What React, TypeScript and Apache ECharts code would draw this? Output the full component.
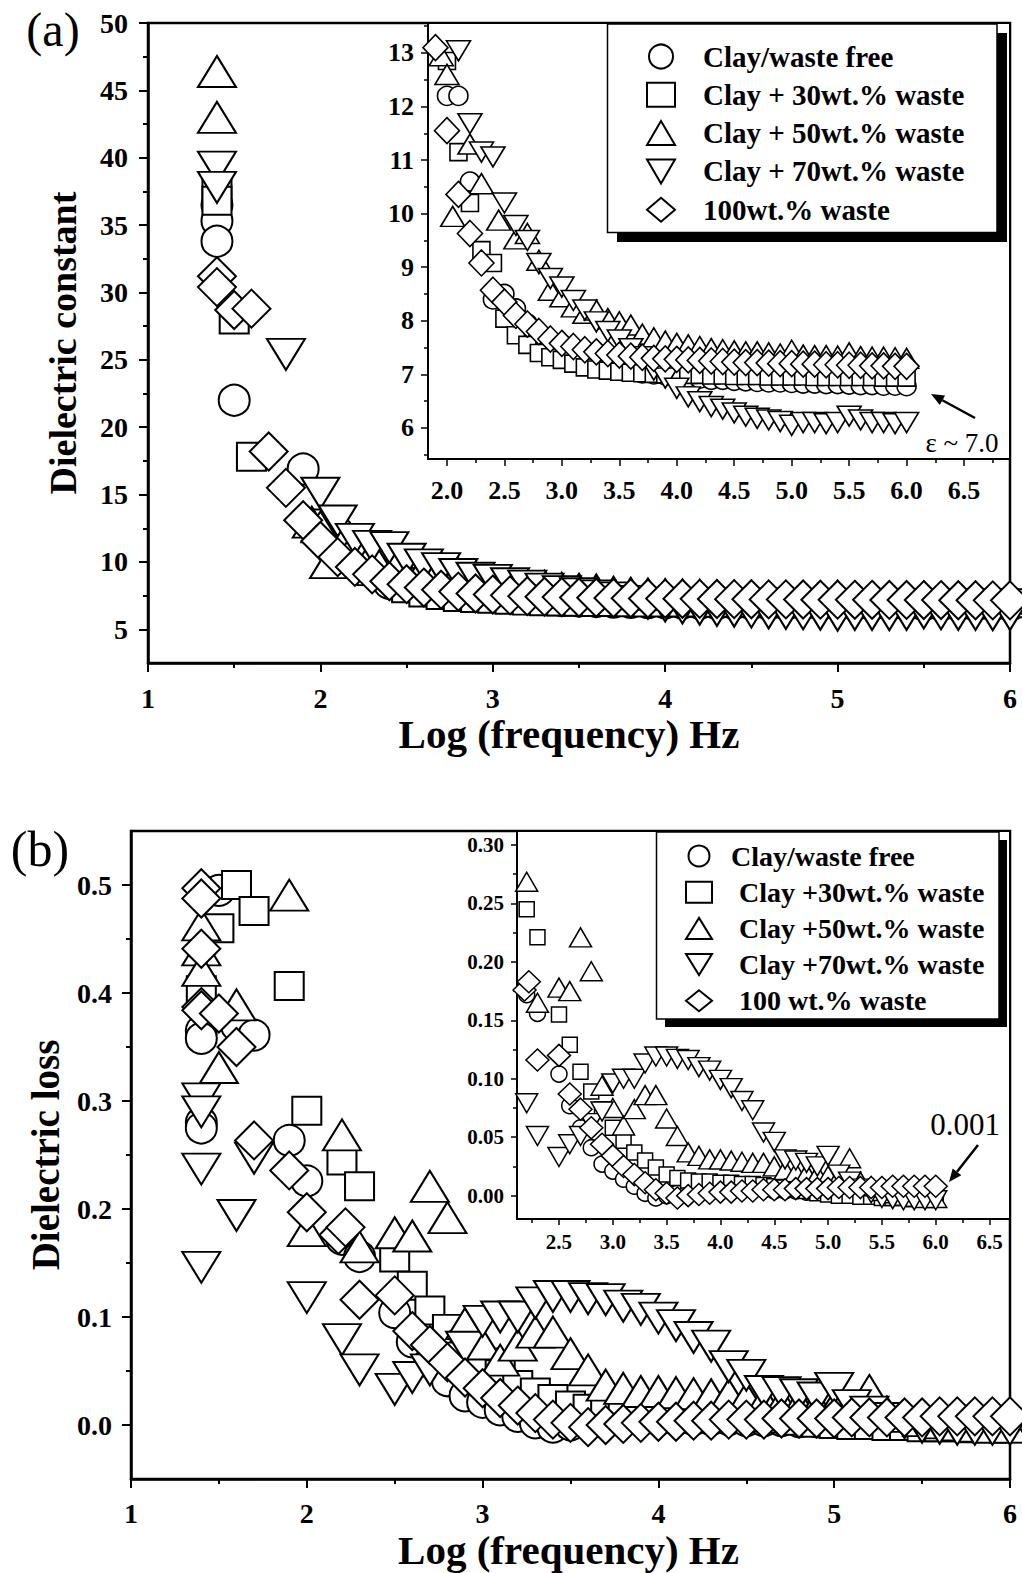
import React, { useEffect, useRef } from 'react';
import * as echarts from 'echarts';

const FONT = 'Liberation Serif';

// ---------- Panel (a): dielectric constant vs log(frequency) ----------
const epsFree: number[][] = [[1.4,36.5],[1.4,35.3],[1.4,33.8],[1.5,22.0],[1.9,16.9],[2.0,12.2],[2.1,12.2],[2.2,10.6],[2.4,8.4],[2.5,8.5],[2.6,8.23],[2.7,7.95],[2.8,7.75],[2.9,7.6],[3.0,7.45],[3.1,7.35],[3.2,7.27],[3.3,7.2],[3.4,7.14],[3.5,7.1],[3.6,7.06],[3.7,7.02],[3.8,7.0],[3.9,6.98],[4.0,6.96],[4.1,6.94],[4.2,6.92],[4.3,6.9],[4.4,6.9],[4.5,6.88],[4.6,6.87],[4.7,6.86],[4.8,6.85],[4.9,6.85],[5.0,6.84],[5.1,6.83],[5.2,6.83],[5.3,6.82],[5.4,6.82],[5.5,6.81],[5.6,6.8],[5.7,6.8],[5.8,6.79],[5.9,6.79],[6.0,6.78]];
const epsW30: number[][] = [[1.4,37.5],[1.4,36.8],[1.5,28.0],[1.6,17.8],[2.0,12.85],[2.1,11.15],[2.2,10.2],[2.3,9.32],[2.4,9.08],[2.5,8.04],[2.6,7.73],[2.7,7.55],[2.8,7.4],[2.9,7.32],[3.0,7.27],[3.1,7.2],[3.2,7.13],[3.3,7.09],[3.4,7.07],[3.5,7.05],[3.6,7.03],[3.7,7.02],[3.8,7.01],[3.9,7.0],[4.0,7.0],[4.1,6.99],[4.2,6.99],[4.3,6.98],[4.4,6.98],[4.5,6.97],[4.6,6.97],[4.7,6.97],[4.8,6.96],[4.9,6.96],[5.0,6.96],[5.1,6.96],[5.2,6.95],[5.3,6.95],[5.4,6.95],[5.5,6.95],[5.6,6.95],[5.7,6.95],[5.8,6.94],[5.9,6.94],[6.0,6.94]];
const epsW50: number[][] = [[1.4,46.4],[1.4,43.0],[1.95,12.95],[2.0,12.6],[2.05,9.95],[2.2,11.3],[2.3,10.56],[2.45,9.88],[2.6,9.53],[2.7,9.63],[2.8,9.13],[2.9,8.57],[3.0,8.45],[3.1,8.26],[3.2,8.14],[3.3,8.2],[3.4,8.04],[3.5,7.98],[3.6,7.92],[3.7,7.75],[3.8,7.68],[3.9,7.62],[4.0,7.58],[4.1,7.55],[4.2,7.52],[4.3,7.48],[4.4,7.46],[4.5,7.44],[4.6,7.42],[4.7,7.42],[4.8,7.4],[4.9,7.38],[5.0,7.45],[5.1,7.36],[5.2,7.35],[5.3,7.35],[5.4,7.34],[5.5,7.4],[5.6,7.33],[5.7,7.32],[5.8,7.32],[5.9,7.31],[6.0,7.3]];
const epsW70: number[][] = [[1.4,39.3],[1.4,37.8],[1.8,25.4],[2.0,15.1],[2.1,13.04],[2.2,11.68],[2.3,11.15],[2.4,11.06],[2.5,10.2],[2.6,9.78],[2.7,9.5],[2.8,9.07],[2.9,8.79],[3.0,8.63],[3.1,8.38],[3.2,8.2],[3.3,7.98],[3.4,7.8],[3.5,7.64],[3.6,7.48],[3.7,7.33],[3.8,7.08],[3.9,6.93],[4.0,6.74],[4.1,6.58],[4.2,6.49],[4.3,6.4],[4.4,6.35],[4.5,6.28],[4.6,6.22],[4.7,6.18],[4.8,6.15],[4.9,6.12],[5.0,6.05],[5.1,6.1],[5.2,6.1],[5.3,6.08],[5.4,6.1],[5.5,6.22],[5.6,6.15],[5.7,6.1],[5.8,6.1],[5.9,6.08],[6.0,6.1]];
const epsW100: number[][] = [[1.4,31.2],[1.4,30.4],[1.5,28.7],[1.6,28.8],[1.7,18.2],[1.8,15.5],[1.9,13.1],[2.0,11.55],[2.1,10.36],[2.2,9.63],[2.3,9.08],[2.4,8.57],[2.5,8.35],[2.6,8.1],[2.7,7.94],[2.8,7.8],[2.9,7.66],[3.0,7.58],[3.1,7.52],[3.2,7.46],[3.3,7.42],[3.4,7.39],[3.5,7.36],[3.6,7.34],[3.7,7.32],[3.8,7.3],[3.9,7.29],[4.0,7.28],[4.1,7.27],[4.2,7.26],[4.3,7.25],[4.4,7.24],[4.5,7.23],[4.6,7.22],[4.7,7.22],[4.8,7.21],[4.9,7.2],[5.0,7.2],[5.1,7.19],[5.2,7.19],[5.3,7.18],[5.4,7.18],[5.5,7.17],[5.6,7.17],[5.7,7.16],[5.8,7.16],[5.9,7.15],[6.0,7.15]];

// ---------- Panel (b): dielectric loss vs log(frequency) ----------
const lossFree: number[][] = [[1.4,0.365],[1.4,0.358],[1.4,0.28],[1.4,0.275],[1.5,0.495],[1.6,0.37],[1.7,0.361],[1.9,0.2635],[2.0,0.226],[2.2,0.172],[2.3,0.156],[2.5,0.104],[2.6,0.077],[2.7,0.058],[2.8,0.041],[2.9,0.027],[3.0,0.021],[3.1,0.014],[3.2,0.008],[3.3,0.002],[3.4,-0.002],[3.5,0.0],[3.6,0.002],[3.7,0.003],[3.8,0.004],[3.9,0.005],[4.0,0.005],[4.1,0.005],[4.2,0.005],[4.3,0.005],[4.4,0.005],[4.5,0.004],[4.6,0.004],[4.7,0.004],[4.8,0.003],[4.9,0.003],[5.0,0.003],[5.1,0.002],[5.2,0.002],[5.3,0.002],[5.4,0.001],[5.5,0.001],[5.6,0.001],[5.7,0.001],[5.8,0.001],[5.9,0.001],[6.0,0.001]];
const lossW30: number[][] = [[1.4,0.4025],[1.5,0.46],[1.6,0.5],[1.7,0.476],[1.9,0.4065],[2.0,0.291],[2.2,0.245],[2.3,0.221],[2.5,0.155],[2.6,0.129],[2.7,0.106],[2.8,0.089],[2.9,0.074],[3.0,0.058],[3.1,0.047],[3.2,0.037],[3.3,0.03],[3.4,0.024],[3.5,0.018],[3.6,0.015],[3.7,0.013],[3.8,0.012],[3.9,0.012],[4.0,0.011],[4.1,0.011],[4.2,0.01],[4.3,0.01],[4.4,0.009],[4.5,0.008],[4.6,0.007],[4.7,0.006],[4.8,0.004],[4.9,0.002],[5.0,0.001],[5.1,0.0],[5.2,0.0],[5.3,-0.001],[5.4,-0.001],[5.5,-0.002],[5.6,-0.002],[5.7,-0.002],[5.8,-0.003],[5.9,-0.003],[6.0,-0.003]];
const lossW50: number[][] = [[1.4,0.463],[1.4,0.44],[1.4,0.421],[1.5,0.331],[1.6,0.389],[1.9,0.4906],[2.0,0.18],[2.2,0.2686],[2.3,0.165],[2.5,0.178],[2.6,0.175],[2.7,0.221],[2.8,0.192],[2.9,0.094],[3.0,0.075],[3.1,0.06],[3.2,0.074],[3.3,0.086],[3.4,0.086],[3.5,0.066],[3.6,0.051],[3.7,0.037],[3.8,0.034],[3.9,0.031],[4.0,0.031],[4.1,0.03],[4.2,0.029],[4.3,0.028],[4.4,0.028],[4.5,0.025],[4.6,0.022],[4.7,0.02],[4.8,0.019],[4.9,0.018],[5.0,0.017],[5.1,0.016],[5.2,0.032],[5.3,0.012],[5.4,0.008],[5.5,0.004],[5.6,0.002],[5.7,0.0],[5.8,-0.001],[5.9,-0.002],[6.0,-0.002]];
const lossW70: number[][] = [[1.4,0.302],[1.4,0.29],[1.4,0.237],[1.4,0.146],[1.6,0.194],[1.7,0.247],[2.0,0.118],[2.2,0.079],[2.3,0.051],[2.5,0.033],[2.6,0.044],[2.7,0.051],[2.8,0.062],[2.9,0.072],[3.0,0.096],[3.1,0.1],[3.2,0.1],[3.3,0.113],[3.4,0.119],[3.5,0.119],[3.6,0.117],[3.7,0.116],[3.8,0.11],[3.9,0.107],[4.0,0.099],[4.1,0.092],[4.2,0.081],[4.3,0.073],[4.4,0.054],[4.5,0.046],[4.6,0.031],[4.7,0.03],[4.8,0.028],[4.9,0.025],[5.0,0.034],[5.1,0.018],[5.2,0.012],[5.3,0.006],[5.4,0.002],[5.5,-0.002],[5.6,-0.003],[5.7,-0.004],[5.8,-0.004],[5.9,-0.004],[6.0,-0.004]];
const lossW100: number[][] = [[1.4,0.497],[1.4,0.4875],[1.4,0.441],[1.4,0.387],[1.4,0.384],[1.5,0.381],[1.6,0.35],[1.7,0.2635],[1.9,0.2357],[2.0,0.197],[2.18,0.176],[2.22,0.183],[2.3,0.116],[2.5,0.12],[2.6,0.087],[2.7,0.074],[2.8,0.058],[2.9,0.044],[3.0,0.034],[3.1,0.025],[3.2,0.018],[3.3,0.011],[3.4,0.005],[3.5,0.002],[3.6,-0.002],[3.7,0.0],[3.8,0.001],[3.9,0.002],[4.0,0.003],[4.1,0.003],[4.2,0.004],[4.3,0.004],[4.4,0.005],[4.5,0.005],[4.6,0.005],[4.7,0.006],[4.8,0.006],[4.9,0.006],[5.0,0.006],[5.1,0.007],[5.2,0.007],[5.3,0.007],[5.4,0.007],[5.5,0.007],[5.6,0.008],[5.7,0.008],[5.8,0.008],[5.9,0.008],[6.0,0.008]];

// ---------- legend names ----------
const namesA = ['Clay/waste free', 'Clay + 30wt.% waste', 'Clay + 50wt.% waste', 'Clay + 70wt.% waste', '100wt.% waste'];
const namesB = ['Clay/waste free', 'Clay +30wt.% waste', 'Clay +50wt.% waste', 'Clay +70wt.% waste', '100 wt.% waste'];

// ---------- axis ranges & tick values ----------
const aMainX = [1, 6];
const aMainY = [2.5, 50];
const aInsX = [1.835, 6.9];
const aInsY = [5.42, 13.56];
const bMainX = [1, 6];
const bMainY = [-0.05, 0.55];
const bInsX = [2.11, 6.69];
const bInsY = [-0.02, 0.312];

const aMainXMajor = [1, 2, 3, 4, 5, 6];
const aMainXMinor = [1.5, 2.5, 3.5, 4.5, 5.5];
const aMainYMajor = [5, 10, 15, 20, 25, 30, 35, 40, 45, 50];
const aMainYMinor = [7.5, 12.5, 17.5, 22.5, 27.5, 32.5, 37.5, 42.5, 47.5];
const aInsXMajor = [2.0, 2.5, 3.0, 3.5, 4.0, 4.5, 5.0, 5.5, 6.0, 6.5];
const aInsXMinor = [2.25, 2.75, 3.25, 3.75, 4.25, 4.75, 5.25, 5.75, 6.25, 6.75];
const aInsYMajor = [6, 7, 8, 9, 10, 11, 12, 13];
const aInsYMinor = [5.5, 6.5, 7.5, 8.5, 9.5, 10.5, 11.5, 12.5, 13.5];
const bMainXMajor = [1, 2, 3, 4, 5, 6];
const bMainXMinor = [1.5, 2.5, 3.5, 4.5, 5.5];
const bMainYMajor = [0, 0.1, 0.2, 0.3, 0.4, 0.5];
const bMainYMinor = [0.05, 0.15, 0.25, 0.35, 0.45];
const bInsXMajor = [2.5, 3.0, 3.5, 4.0, 4.5, 5.0, 5.5, 6.0, 6.5];
const bInsXMinor = [2.25, 2.75, 3.25, 3.75, 4.25, 4.75, 5.25, 5.75, 6.25];
const bInsYMajor = [0, 0.05, 0.1, 0.15, 0.2, 0.25, 0.3];
const bInsYMinor = [0.025, 0.075, 0.125, 0.175, 0.225, 0.275];

const DOWN_TRI = 'path://M0,0L20,0L10,17Z';
const symbols = ['circle', 'rect', 'triangle', DOWN_TRI, 'diamond'];
const mainSizes: (number | number[])[] = [31, [29, 28], [38, 31], [38, 31], [38, 38]];
const insASizes: (number | number[])[] = [19, 17, [24, 20], [24, 20], [25, 26]];
const insBSizes: (number | number[])[] = [16, 15, [22, 19], [22, 19], [23, 22]];

function axisPair(dim: 'x' | 'y', gridIndex: number, range: number[], major: number[], minor: number[], s: any) {
  const position = dim === 'x' ? 'bottom' : 'left';
  const majorAxis: any = {
    type: 'value', gridIndex, min: range[0], max: range[1], position,
    axisLine: { show: true, onZero: false, lineStyle: { color: '#000', width: s.lineW } },
    axisTick: { show: true, inside: false, length: s.majorLen, customValues: major, lineStyle: { color: '#000', width: s.tickW } },
    axisLabel: {
      show: true, customValues: major, margin: s.margin, formatter: s.fmt,
      fontFamily: FONT, fontWeight: 'bold', fontSize: s.labelSize, color: '#000',
    },
    splitLine: { show: false }, minorTick: { show: false }, minorSplitLine: { show: false },
  };
  if (s.name) {
    majorAxis.name = s.name;
    majorAxis.nameLocation = 'middle';
    majorAxis.nameGap = s.nameGap;
    majorAxis.nameTextStyle = { fontFamily: FONT, fontWeight: 'bold', fontSize: s.nameSize, color: '#000', padding: s.namePad || 0 };
  }
  const minorAxis: any = {
    type: 'value', gridIndex, min: range[0], max: range[1], position,
    axisLine: { show: false, onZero: false },
    axisTick: { show: true, inside: false, length: s.minorLen, customValues: minor, lineStyle: { color: '#000', width: s.tickW } },
    axisLabel: { show: false },
    splitLine: { show: false },
  };
  return [majorAxis, minorAxis];
}

function arrow(x1: number, y1: number, x2: number, y2: number) {
  const dx = x2 - x1, dy = y2 - y1;
  const L = Math.hypot(dx, dy);
  const ux = dx / L, uy = dy / L;
  const len = 13, half = 5.5;
  const bx = x2 - ux * len, by = y2 - uy * len;
  const px = -uy, py = ux;
  return [
    { type: 'line', z: 20, shape: { x1, y1, x2: bx, y2: by }, style: { stroke: '#000', lineWidth: 2.5 } },
    { type: 'polygon', z: 20, shape: { points: [[x2, y2], [bx + px * half, by + py * half], [bx - px * half, by - py * half]] }, style: { fill: '#000' } },
  ];
}

function label(text: string, x: number, y: number, size: number) {
  return {
    type: 'text', z: 20, x, y,
    style: {
      text, fill: '#000', font: `${size}px "${FONT}"`, fontFamily: FONT, fontSize: size,
      align: 'center', verticalAlign: 'middle', textAlign: 'center', textVerticalAlign: 'middle',
    },
  };
}

function buildOption() {
  const grids = [
    { left: 148, top: 23, width: 862, height: 640 },
    { left: 428, top: 23, width: 582, height: 436 },
    { left: 131, top: 831, width: 879, height: 648 },
    { left: 517, top: 831, width: 493, height: 388 },
  ];
  const grid = grids.map((g, i) => ({
    ...g, show: true, borderColor: '#000', borderWidth: i % 2 === 0 ? 2.5 : 2,
    backgroundColor: i % 2 === 1 ? '#fff' : 'transparent',
  }));

  const fmtInt = (v: number) => String(Math.round(v));
  const fmt1 = (v: number) => v.toFixed(1);
  const fmt2 = (v: number) => v.toFixed(2);

  const xAxis = [
    ...axisPair('x', 0, aMainX, aMainXMajor, aMainXMinor, { lineW: 2.5, tickW: 2, majorLen: 9, minorLen: 5, margin: 21, labelSize: 28, fmt: fmtInt, name: 'Log (frequency) Hz', nameGap: 50, nameSize: 41, namePad: [0, 20, 0, 0] }),
    ...axisPair('x', 1, aInsX, aInsXMajor, aInsXMinor, { lineW: 2, tickW: 1.5, majorLen: 7, minorLen: 4, margin: 18, labelSize: 26, fmt: fmt1 }),
    ...axisPair('x', 2, bMainX, bMainXMajor, bMainXMinor, { lineW: 2.5, tickW: 2, majorLen: 9, minorLen: 5, margin: 20, labelSize: 28, fmt: fmtInt, name: 'Log (frequency) Hz', nameGap: 50, nameSize: 41, namePad: [0, 4, 0, 0] }),
    ...axisPair('x', 3, bInsX, bInsXMajor, bInsXMinor, { lineW: 2, tickW: 1.5, majorLen: 6, minorLen: 4, margin: 12, labelSize: 21, fmt: fmt1 }),
  ];
  const yAxis = [
    ...axisPair('y', 0, aMainY, aMainYMajor, aMainYMinor, { lineW: 2.5, tickW: 2, majorLen: 9, minorLen: 5, margin: 20, labelSize: 28, fmt: fmtInt, name: 'Dielectric constant', nameGap: 66, nameSize: 38 }),
    ...axisPair('y', 1, aInsY, aInsYMajor, aInsYMinor, { lineW: 2, tickW: 1.5, majorLen: 7, minorLen: 4, margin: 14, labelSize: 26, fmt: fmtInt }),
    ...axisPair('y', 2, bMainY, bMainYMajor, bMainYMinor, { lineW: 2.5, tickW: 2, majorLen: 9, minorLen: 5, margin: 19, labelSize: 28, fmt: fmt1, name: 'Dielectric loss', nameGap: 66, nameSize: 39 }),
    ...axisPair('y', 3, bInsY, bInsYMajor, bInsYMinor, { lineW: 2, tickW: 1.5, majorLen: 6, minorLen: 4, margin: 13, labelSize: 21, fmt: fmt2 }),
  ];

  const dataA = [epsFree, epsW30, epsW50, epsW70, epsW100];
  const dataB = [lossFree, lossW30, lossW50, lossW70, lossW100];
  const series: any[] = [];
  const add = (names: string[], data: number[][][], axisIdx: number, sizes: (number | number[])[], bw: number) => {
    data.forEach((d, i) => {
      series.push({
        type: 'scatter', name: names[i], xAxisIndex: axisIdx, yAxisIndex: axisIdx,
        data: d, symbol: symbols[i], symbolSize: sizes[i], clip: true,
        itemStyle: { color: '#fff', borderColor: '#000', borderWidth: bw, opacity: 1 },
        emphasis: { disabled: true },
      });
    });
  };
  add(namesA, dataA, 0, mainSizes, 2);
  add(namesA, dataA, 2, insASizes, 1.6);
  add(namesB, dataB, 4, mainSizes, 2);
  add(namesB, dataB, 6, insBSizes, 1.5);

  const legendBase = {
    orient: 'vertical', padding: 0, selectedMode: false, z: 10,
    symbolKeepAspect: false,
    itemStyle: { color: '#fff', borderColor: '#000', borderWidth: 2 },
  };
  const legend = [
    {
      ...legendBase, left: 646, top: 42, itemWidth: 28, itemHeight: 24, itemGap: 9.3,
      textStyle: { fontFamily: FONT, fontWeight: 'bold', fontSize: 29, color: '#000', padding: [0, 0, 0, 23] },
      data: namesA,
    },
    {
      ...legendBase, left: 685, top: 842, itemWidth: 26, itemHeight: 21, itemGap: 8.2,
      textStyle: { fontFamily: FONT, fontWeight: 'bold', fontSize: 28, color: '#000', padding: [0, 0, 0, 22] },
      data: namesB.map((n, i) => (i === 0 ? { name: n, textStyle: { padding: [0, 0, 0, 14] } } : { name: n })),
    },
  ];

  const graphic = [
    { type: 'rect', z: 8, shape: { x: 617, y: 33, width: 390, height: 209 }, style: { fill: '#000' } },
    { type: 'rect', z: 9, shape: { x: 607.5, y: 24, width: 389.5, height: 208.5 }, style: { fill: '#fff', stroke: '#000', lineWidth: 1.5 } },
    { type: 'rect', z: 8, shape: { x: 665, y: 840, width: 342, height: 187 }, style: { fill: '#000' } },
    { type: 'rect', z: 9, shape: { x: 656.5, y: 832, width: 342.5, height: 187 }, style: { fill: '#fff', stroke: '#000', lineWidth: 1.5 } },
    label('(a)', 53, 29, 48),
    label('(b)', 40, 849, 50),
    label('ε ~ 7.0', 962, 443, 27),
    label('0.001', 965, 1124, 31),
    ...arrow(975, 418, 931, 394),
    ...arrow(978, 1145, 949, 1182),
  ];

  return {
    animation: false,
    backgroundColor: '#fff',
    grid, xAxis, yAxis, series, legend, graphic,
  };
}

export default function App() {
  const ref = useRef<HTMLDivElement>(null);
  useEffect(() => {
    if (!ref.current) return;
    const chart = echarts.init(ref.current, null, { renderer: 'svg' });
    chart.setOption(buildOption() as any);
    return () => chart.dispose();
  }, []);
  return (
    <div
      ref={ref}
      style={{ position: 'absolute', left: 0, top: 0, width: 1022, height: 1573, background: '#fff' }}
    />
  );
}
